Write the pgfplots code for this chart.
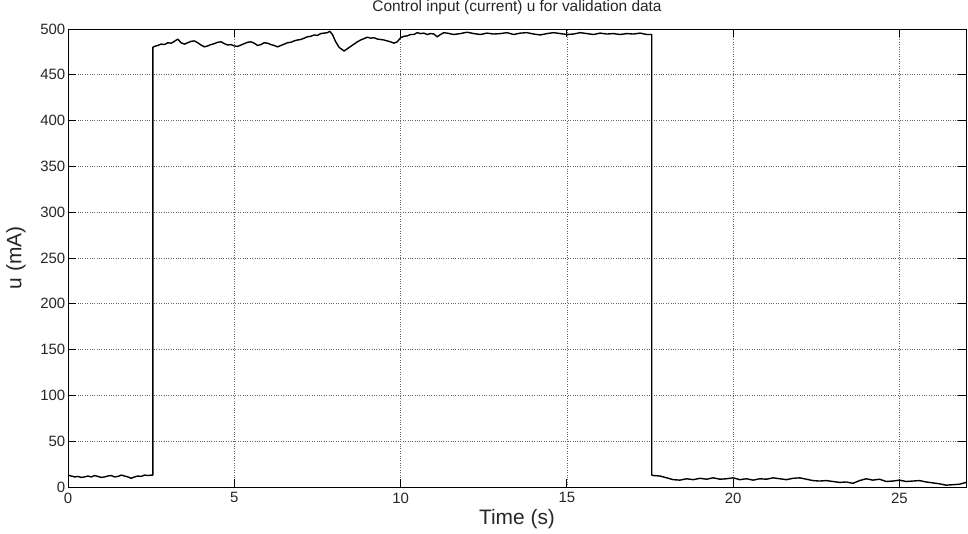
\documentclass[border=0pt]{standalone}
\usepackage{pgfplots}
\pgfplotsset{compat=1.18}
\usepackage{fontspec}
\setmainfont{Liberation Sans}
\begin{document}
\begin{tikzpicture}
\begin{axis}[
  scale only axis,
  width=898bp, height=458bp,
  xmin=0, xmax=27, ymin=0, ymax=500,
  xtick={0,5,10,15,20,25},
  ytick={0,50,100,150,200,250,300,350,400,450,500},
  tick align=inside,
  major tick length=8bp,
  tick style={black, line width=0.8pt},
  axis line style={black, line width=0.8pt},
  grid=major,
  major grid style={dotted, line width=0.7pt, gray!80!black},
  ticklabel style={font=\fontsize{15}{17}\selectfont, text=black!85},
  /pgf/number format/assume math mode=true,
  yticklabel style={inner sep=2.5pt},
  xticklabel style={inner sep=1.5pt, yshift=-4bp},
  title={Control input (current) u for validation data},
  title style={font=\fontsize{15.5}{17}\selectfont, at={(axis description cs:0.5,1.033)}, anchor=center, text=black!85},
  xlabel={Time (s)},
  xlabel style={font=\fontsize{21}{24}\selectfont, at={(axis description cs:0.5,-0.07)}, anchor=center, text=black!85},
  ylabel={u (mA)},
  ylabel style={font=\fontsize{21}{24}\selectfont, at={(axis description cs:-0.058,0.5)}, anchor=center, rotate=0, text=black!85},
]
\addplot[black, line width=1.4pt, line join=round] coordinates {
(0,13) (0.1,12) (0.2,11) (0.3,11.5) (0.4,10.5) (0.5,11) (0.6,12) (0.7,11) (0.8,12.5) (0.9,11.5)
(1.0,10.5) (1.1,11) (1.2,12) (1.3,12.5) (1.4,11) (1.5,11.5) (1.6,13) (1.7,12) (1.8,11) (1.9,9.5)
(2.0,11) (2.1,12) (2.2,11.5) (2.3,13) (2.4,12.5) (2.5,13) (2.55,13) (2.55,480)
(2.6,481) (2.7,482) (2.8,483.5) (2.9,483) (3.0,485) (3.1,484.5) (3.2,486.5) (3.3,489) (3.4,485) (3.5,483.5)
(3.6,485) (3.7,486.5) (3.8,487) (3.9,485) (4.0,482.5) (4.1,480.5) (4.2,481.5) (4.3,483) (4.4,484) (4.5,485.5)
(4.6,486) (4.7,484) (4.8,482.5) (4.9,483) (5.0,481.5) (5.1,481) (5.2,482.5) (5.3,484) (5.4,485.5) (5.5,486)
(5.6,484.5) (5.7,482) (5.8,483) (5.9,485) (6.0,484.5) (6.1,483) (6.2,482) (6.3,480.5) (6.4,482) (6.5,483.5)
(6.6,485) (6.7,485.5) (6.8,487) (6.9,488) (7.0,488.5) (7.1,490) (7.2,491.5) (7.3,492) (7.4,493.5) (7.5,493)
(7.6,495) (7.7,495.5) (7.8,496) (7.87,497.5) (7.95,494) (8.05,486) (8.15,480) (8.3,476) (8.4,478.5) (8.5,481)
(8.6,483.5) (8.7,486) (8.8,488) (8.9,489.5) (9.0,491) (9.1,490) (9.2,490.5) (9.3,489) (9.4,488.5) (9.5,488)
(9.6,487) (9.7,486) (9.8,484.5) (9.9,486) (10.0,490.5) (10.1,492) (10.2,492.5) (10.3,494) (10.4,494) (10.5,496)
(10.6,495) (10.7,495.5) (10.8,494) (10.9,495) (11.0,494.5) (11.1,491.5) (11.2,494) (11.3,496) (11.4,495.5) (11.6,494)
(11.8,495) (12.0,496.5) (12.2,495) (12.4,494) (12.6,495.5) (12.8,494.5) (13.0,495) (13.2,496) (13.4,494) (13.6,495.5)
(13.8,496) (14.0,494.5) (14.2,493.5) (14.4,495) (14.6,496) (14.8,495) (15.0,494) (15.2,494.5) (15.4,496) (15.6,495)
(15.8,494) (16.0,495.5) (16.2,494.5) (16.4,495) (16.6,494) (16.8,495) (17.0,494.5) (17.2,495.5) (17.4,494) (17.55,494)
(17.55,13) (17.6,12.5) (17.8,12) (18.0,10) (18.2,8) (18.4,7.5) (18.6,9) (18.8,8) (19.0,9.5) (19.2,8.5)
(19.4,10) (19.6,8.5) (19.8,9) (20.0,10) (20.2,8) (20.4,9) (20.6,7.5) (20.8,9) (21.0,8.5) (21.2,10)
(21.4,9) (21.6,8) (21.8,9.5) (22.0,10) (22.2,8.5) (22.4,7) (22.6,6.5) (22.8,7) (23.0,6) (23.2,5)
(23.4,5.5) (23.6,4) (23.8,7) (24.0,9) (24.2,7.5) (24.4,8.5) (24.6,6) (24.8,6.5) (25.0,7.5) (25.2,6)
(25.4,6.5) (25.6,7) (25.8,5.5) (26.0,4.5) (26.2,3.5) (26.4,2) (26.6,2.5) (26.8,3) (27.0,5)
};
\end{axis}
\pgfresetboundingbox
\path[use as bounding box] ([xshift=-68bp,yshift=-47bp]current axis.south west) rectangle ([xshift=2bp,yshift=29bp]current axis.north east);
\end{tikzpicture}
\end{document}
